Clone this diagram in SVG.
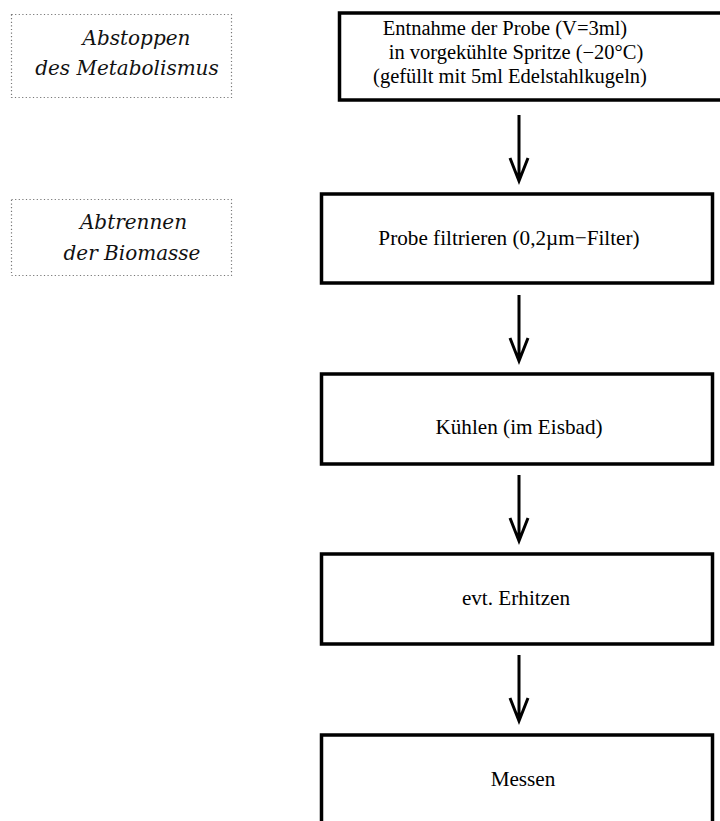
<svg xmlns="http://www.w3.org/2000/svg" width="720" height="821" viewBox="0 0 720 821">
<style>
.box{fill:#fff;stroke:#000;stroke-width:3.5}
.note{fill:none;stroke:#777;stroke-width:1.2;stroke-dasharray:1.2 2.4}
.t{font-family:"Liberation Serif","Times New Roman",serif;font-size:20.5px;fill:#000;text-anchor:middle}
.b{font-size:21.2px}
.n{font-family:"DejaVu Serif",serif;font-style:italic;font-size:20px;fill:#111;text-anchor:middle}
.c{fill:none;stroke:#000;stroke-width:3}
</style>
<rect width="720" height="821" fill="#fff"/>
<g id="note1">
<rect class="note" x="11.5" y="14.5" width="220" height="83"/>
<text class="n" x="136.5" y="45">Abstoppen</text>
<text class="n" x="127" y="75">des Metabolismus</text>
</g>
<g id="note2">
<rect class="note" x="11.5" y="199.5" width="220" height="76"/>
<text class="n" x="133.5" y="229">Abtrennen</text>
<text class="n" x="132" y="260">der Biomasse</text>
</g>
<g id="step1">
<rect class="box" x="339.5" y="13" width="400" height="87"/>
<text class="t" x="505" y="35">Entnahme der Probe (V=3ml)</text>
<text class="t" x="516" y="59">in vorgekühlte Spritze (−20°C)</text>
<text class="t" x="510" y="83">(gefüllt mit 5ml Edelstahlkugeln)</text>
</g>
<g id="step2">
<rect class="box" x="321.5" y="194" width="391" height="89"/>
<text class="t b" x="509" y="245">Probe filtrieren (0,2µm−Filter)</text>
</g>
<g id="step3">
<rect class="box" x="321.5" y="374" width="391" height="90"/>
<text class="t b" x="519" y="434">Kühlen (im Eisbad)</text>
</g>
<g id="step4">
<rect class="box" x="321.5" y="554" width="391" height="90"/>
<text class="t b" x="516" y="605">evt. Erhitzen</text>
</g>
<g id="step5">
<rect class="box" x="321.5" y="735" width="391" height="100"/>
<text class="t b" x="523" y="786">Messen</text>
</g>
<g id="connectors">
<path class="c" d="M519 115V180M510 158L519 181L528 158"/>
<path class="c" d="M519 295V360M510 338L519 361L528 338"/>
<path class="c" d="M519 475V540M510 518L519 541L528 518"/>
<path class="c" d="M519 655V720M510 698L519 721L528 698"/>
</g>
</svg>
